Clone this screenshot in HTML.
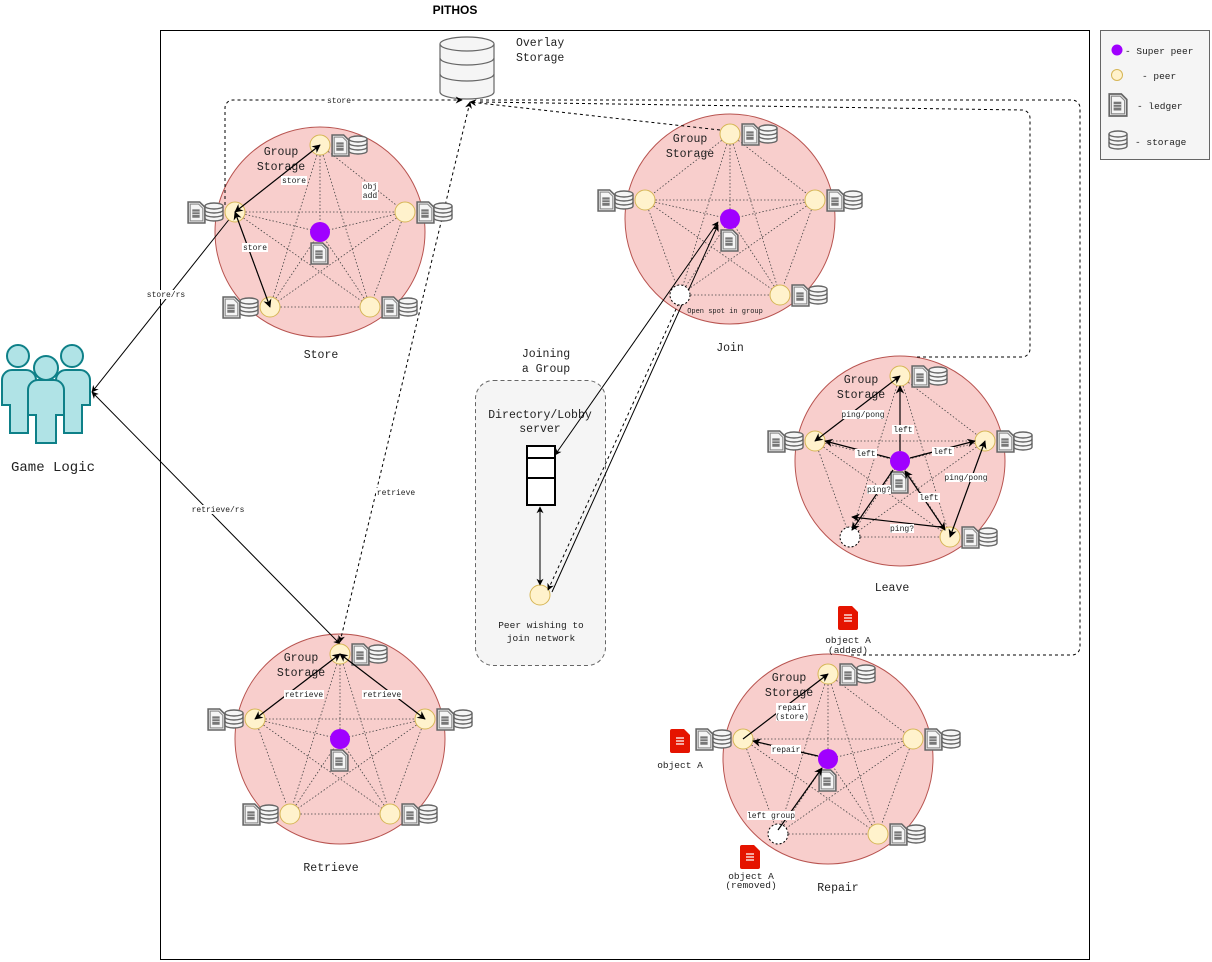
<!DOCTYPE html>
<html><head><meta charset="utf-8"><style>
body{margin:0;background:#fff;}
svg{display:block;font-family:"Liberation Mono",monospace;}
.t{font-size:11.5px;fill:#222;}
.s{font-size:9.5px;fill:#222;}
.lb{font-size:8px;fill:#222;}
</style></head><body>
<svg id="s" width="1212" height="962" viewBox="0 0 1212 962" xmlns="http://www.w3.org/2000/svg">
<defs>
<marker id="a" viewBox="0 0 10 10" refX="9" refY="5" markerWidth="7" markerHeight="7" orient="auto-start-reverse"><path d="M0,0 L10,5 L0,10 L3,5 z" fill="#000"/></marker>
<symbol id="led" viewBox="0 0 16 20" overflow="visible"><path d="M0,0 h11 l5,5 v15 h-16 z" fill="#e6e6e6" stroke="#666" stroke-width="1.5"/><path d="M2,2 h8 l4,4 v12 h-12 z" fill="#f5f5f5" stroke="#888" stroke-width="1"/><rect x="4" y="7" width="7" height="8" fill="#777"/><path d="M4,9.5h7M4,12h7" stroke="#ddd" stroke-width="0.8"/></symbol>
<symbol id="db" viewBox="0 0 20 20" overflow="visible"><path d="M1,4 v12 a9,3 0 0 0 18,0 v-12" fill="#f5f5f5" stroke="#666" stroke-width="1.4"/><ellipse cx="10" cy="4" rx="9" ry="3" fill="#f5f5f5" stroke="#666" stroke-width="1.4"/><path d="M1,8 a9,3 0 0 0 18,0 M1,12 a9,3 0 0 0 18,0" fill="none" stroke="#666" stroke-width="1.4"/></symbol>
<symbol id="red" viewBox="0 0 20 24" overflow="visible"><path d="M2,0 h12 l6,6 v16 a2,2 0 0 1 -2,2 h-16 a2,2 0 0 1 -2,-2 v-20 a2,2 0 0 1 2,-2z" fill="#e51400"/><path d="M6,9h8M6,12h8M6,15h8" stroke="#fff" stroke-width="1.2"/></symbol>
</defs>

<rect x="160.5" y="30.5" width="929" height="929" fill="#fff" stroke="#000"/>
<text x="455" y="14" font-family="Liberation Sans" font-weight="bold" font-size="12" text-anchor="middle">PITHOS</text>

<!-- legend -->
<rect x="1100.5" y="30.5" width="109" height="129" fill="#f5f5f5" stroke="#666"/>
<circle cx="1117" cy="50" r="5.5" fill="#a000ff"/><text class="s" x="1125" y="54">- Super peer</text>
<circle cx="1117" cy="75" r="5.5" fill="#fff2cc" stroke="#d6b656"/><text class="s" x="1142" y="79">- peer</text>
<use href="#led" x="1109" y="94" width="18" height="22"/><text class="s" x="1137" y="109">- ledger</text>
<use href="#db" x="1108" y="130" width="20" height="20"/><text class="s" x="1135" y="145">- storage</text>

<g id="circles"></g>

<!-- overlay storage -->
<g transform="translate(440,36)">
<path d="M0,8 v48 a27,7 0 0 0 54,0 v-48" fill="#f5f5f5" stroke="#666" stroke-width="1.2"/>
<ellipse cx="27" cy="8" rx="27" ry="7" fill="#f5f5f5" stroke="#666" stroke-width="1.2"/>
<path d="M0,22 a27,7 0 0 0 54,0 M0,38 a27,7 0 0 0 54,0" fill="none" stroke="#666" stroke-width="1.2"/>
</g>
<text class="t" x="516" y="46">Overlay</text><text class="t" x="516" y="61">Storage</text>

<!-- game logic users -->
<g fill="#b0e3e6" stroke="#0e8088" stroke-width="2">
<circle cx="18" cy="356" r="11"/><path d="M2,405 v-25 a10,10 0 0 1 10,-10 h14 a10,10 0 0 1 10,10 v25 h-8 v28 h-18 v-28 z"/>
<circle cx="72" cy="356" r="11"/><path d="M56,405 v-25 a10,10 0 0 1 10,-10 h14 a10,10 0 0 1 10,10 v25 h-8 v28 h-18 v-28 z"/>
<circle cx="46" cy="368" r="12"/><path d="M28,415 v-25 a10,10 0 0 1 10,-10 h16 a10,10 0 0 1 10,10 v25 h-8 v28 h-20 v-28 z"/>
</g>
<text x="53" y="471" font-size="14" text-anchor="middle" fill="#222">Game Logic</text>

<!-- directory box -->
<rect x="475.5" y="380.5" width="130" height="285" rx="18" fill="#f5f5f5" stroke="#666" stroke-dasharray="4 3"/>
<text class="t" x="540" y="418" text-anchor="middle">Directory/Lobby</text>
<text class="t" x="540" y="432" text-anchor="middle">server</text>
<rect x="527" y="446" width="28" height="59" fill="#fff" stroke="#000" stroke-width="2"/>
<path d="M527,458h28M527,478h28" stroke="#000" stroke-width="2"/>
<circle cx="540" cy="595" r="10" fill="#fff2cc" stroke="#d6b656"/>
<text class="s" x="541" y="628" text-anchor="middle" font-size="8">Peer wishing to</text>
<text class="s" x="541" y="641" text-anchor="middle" font-size="8">join network</text>
<text class="t" x="546" y="357" text-anchor="middle">Joining</text>
<text class="t" x="546" y="372" text-anchor="middle">a Group</text>

<!-- connectors -->
<g fill="none" stroke="#000" stroke-width="1">
<path d="M92,392 L235,212" marker-start="url(#a)" marker-end="url(#a)"/>
<path d="M92,392 L340,644" marker-start="url(#a)" marker-end="url(#a)"/>
<path d="M540,507 V585" marker-start="url(#a)" marker-end="url(#a)"/>
<path d="M555,455 L718,222" marker-start="url(#a)" marker-end="url(#a)"/>
<path d="M552,592 L718,225" marker-end="url(#a)"/>
<g stroke-dasharray="3 3">
<path d="M225,205 V108 a8,8 0 0 1 8,-8 H462" marker-end="url(#a)"/>
<path d="M340,642 L470,102" marker-start="url(#a)" marker-end="url(#a)"/>
<path d="M720,130 L470,102" marker-end="url(#a)"/>
<path d="M480,100 H1072 a8,8 0 0 1 8,8 V647 a8,8 0 0 1 -8,8 H850"/>
<path d="M480,102 L1022,110 a8,8 0 0 1 8,8 V349 a8,8 0 0 1 -8,8 H915"/>
<path d="M548,590 L682,296" marker-start="url(#a)" marker-end="url(#a)"/>
</g>
</g>
<g class="lb">
<rect x="326" y="96" width="26" height="9" fill="#fff"/><text x="339" y="103" text-anchor="middle">store</text>
<rect x="145" y="290" width="42" height="9" fill="#fff"/><text x="166" y="297" text-anchor="middle">store/rs</text>
<rect x="190" y="505" width="56" height="9" fill="#fff"/><text x="218" y="512" text-anchor="middle">retrieve/rs</text>
<rect x="376" y="488" width="40" height="9" fill="#fff"/><text x="396" y="495" text-anchor="middle">retrieve</text>
</g>

<!-- red docs -->
<use href="#red" x="838" y="606" width="20" height="24"/>
<text class="s" x="848" y="643" text-anchor="middle" font-size="8">object A</text><text class="s" x="848" y="653" text-anchor="middle" font-size="8">(added)</text>
<use href="#red" x="670" y="729" width="20" height="24"/>
<text class="s" x="680" y="768" text-anchor="middle" font-size="8">object A</text>
<use href="#red" x="740" y="845" width="20" height="24"/>
<text class="s" x="751" y="879" text-anchor="middle" font-size="8">object A</text><text class="s" x="751" y="888" text-anchor="middle" font-size="8">(removed)</text>

<!-- group titles -->
<g class="t" text-anchor="middle">
<text x="281" y="155">Group</text><text x="281" y="170">Storage</text>
<text x="690" y="142">Group</text><text x="690" y="157">Storage</text>
<text x="861" y="383">Group</text><text x="861" y="398">Storage</text>
<text x="301" y="661">Group</text><text x="301" y="676">Storage</text>
<text x="789" y="681">Group</text><text x="789" y="696">Storage</text>
<text x="321" y="358">Store</text>
<text x="730" y="351">Join</text>
<text x="892" y="591">Leave</text>
<text x="331" y="871">Retrieve</text>
<text x="838" y="891">Repair</text>
</g>
<g id="over"></g>
<g class="lb" id="labels">
<rect x="281" y="176" width="26" height="9" fill="#fff"/><text x="294" y="183" text-anchor="middle">store</text>
<rect x="242" y="243" width="26" height="9" fill="#fff"/><text x="255" y="250" text-anchor="middle">store</text>
<rect x="362" y="182" width="16" height="18" fill="#fff"/><text x="370" y="189" text-anchor="middle">obj</text><text x="370" y="198" text-anchor="middle">add</text>
<text x="725" y="313" text-anchor="middle" font-size="7">Open spot in group</text>
<rect x="842" y="410" width="42" height="9" fill="#fff"/><text x="863" y="417" text-anchor="middle">ping/pong</text>
<rect x="892" y="425" width="22" height="9" fill="#fff"/><text x="903" y="432" text-anchor="middle">left</text>
<rect x="855" y="449" width="22" height="9" fill="#fff"/><text x="866" y="456" text-anchor="middle">left</text>
<rect x="932" y="447" width="22" height="9" fill="#fff"/><text x="943" y="454" text-anchor="middle">left</text>
<rect x="945" y="473" width="42" height="9" fill="#fff"/><text x="966" y="480" text-anchor="middle">ping/pong</text>
<rect x="867" y="485" width="24" height="9" fill="#fff"/><text x="879" y="492" text-anchor="middle">ping?</text>
<rect x="918" y="493" width="22" height="9" fill="#fff"/><text x="929" y="500" text-anchor="middle">left</text>
<rect x="890" y="524" width="24" height="9" fill="#fff"/><text x="902" y="531" text-anchor="middle">ping?</text>
<rect x="284" y="690" width="40" height="9" fill="#fff"/><text x="304" y="697" text-anchor="middle">retrieve</text>
<rect x="362" y="690" width="40" height="9" fill="#fff"/><text x="382" y="697" text-anchor="middle">retrieve</text>
<rect x="776" y="703" width="32" height="18" fill="#fff"/><text x="792" y="710" text-anchor="middle">repair</text><text x="792" y="719" text-anchor="middle">(store)</text>
<rect x="771" y="745" width="30" height="9" fill="#fff"/><text x="786" y="752" text-anchor="middle">repair</text>
<rect x="747" y="811" width="48" height="9" fill="#fff"/><text x="771" y="818" text-anchor="middle">left group</text>
</g>
</svg>
<script>
var NS="http://www.w3.org/2000/svg";
var G=document.getElementById("circles"),O=document.getElementById("over");
function el(p,t,a){var e=document.createElementNS(NS,t);for(var k in a)e.setAttribute(k,a[k]);p.appendChild(e);return e;}
var groups=[
{c:[320,232],p:[[320,145],[235,212],[405,212],[270,307],[370,307]],e:-1},
{c:[730,219],p:[[730,134],[645,200],[815,200],[680,295],[780,295]],e:3},
{c:[900,461],p:[[900,376],[815,441],[985,441],[850,537],[950,537]],e:3},
{c:[340,739],p:[[340,654],[255,719],[425,719],[290,814],[390,814]],e:-1},
{c:[828,759],p:[[828,674],[743,739],[913,739],[778,834],[878,834]],e:3}];
var sides=['r','l','r','l','r'];
groups.forEach(function(g){
 el(G,"circle",{cx:g.c[0],cy:g.c[1],r:105,fill:"#f8cecc",stroke:"#b85450"});
 for(var i=0;i<5;i++)for(var j=i+1;j<5;j++)el(G,"line",{x1:g.p[i][0],y1:g.p[i][1],x2:g.p[j][0],y2:g.p[j][1],stroke:"#444","stroke-width":0.8,"stroke-dasharray":"1.5 2"});
 g.p.forEach(function(p){el(G,"line",{x1:p[0],y1:p[1],x2:g.c[0],y2:g.c[1],stroke:"#444","stroke-width":0.8,"stroke-dasharray":"1.5 2"});});
});
var A=[[235,212,320,145,1],[235,212,270,307,1],[900,451,900,386,0],[890,458,825,441,0],[910,458,975,441,0],[815,441,900,376,1],[985,441,950,537,1],[905,471,945,530,1],[893,470,852,530,0],[940,527,852,517,0],
[340,654,255,719,1],[340,654,425,719,1],[743,739,828,674,0],[818,756,753,741,0],[778,830,822,768,0]];
groups.forEach(function(g,gi){
 g.p.forEach(function(p,i){
  if(i===g.e){el(O,"circle",{cx:p[0],cy:p[1],r:10,fill:"#fff",stroke:"#000","stroke-dasharray":"2 2"});return;}
  el(O,"circle",{cx:p[0],cy:p[1],r:10,fill:"#fff2cc",stroke:"#d6b656"});
  var x=sides[i]=='r'?p[0]+12:p[0]-47;
  var u1=el(O,"use",{x:x,y:p[1]-10,width:17,height:21});u1.setAttribute("href","#led");
  var u2=el(O,"use",{x:x+16,y:p[1]-10,width:20,height:20});u2.setAttribute("href","#db");
 });
 el(O,"circle",{cx:g.c[0],cy:g.c[1],r:10,fill:"#a000ff"});
 var u=el(O,"use",{x:g.c[0]-9,y:g.c[1]+11,width:17,height:21});u.setAttribute("href","#led");
});
A.forEach(function(a){var l=el(O,"line",{x1:a[0],y1:a[1],x2:a[2],y2:a[3],stroke:"#000","stroke-width":1.2,"marker-end":"url(#a)"});if(a[4])l.setAttribute("marker-start","url(#a)");});
</script>
</body></html>
